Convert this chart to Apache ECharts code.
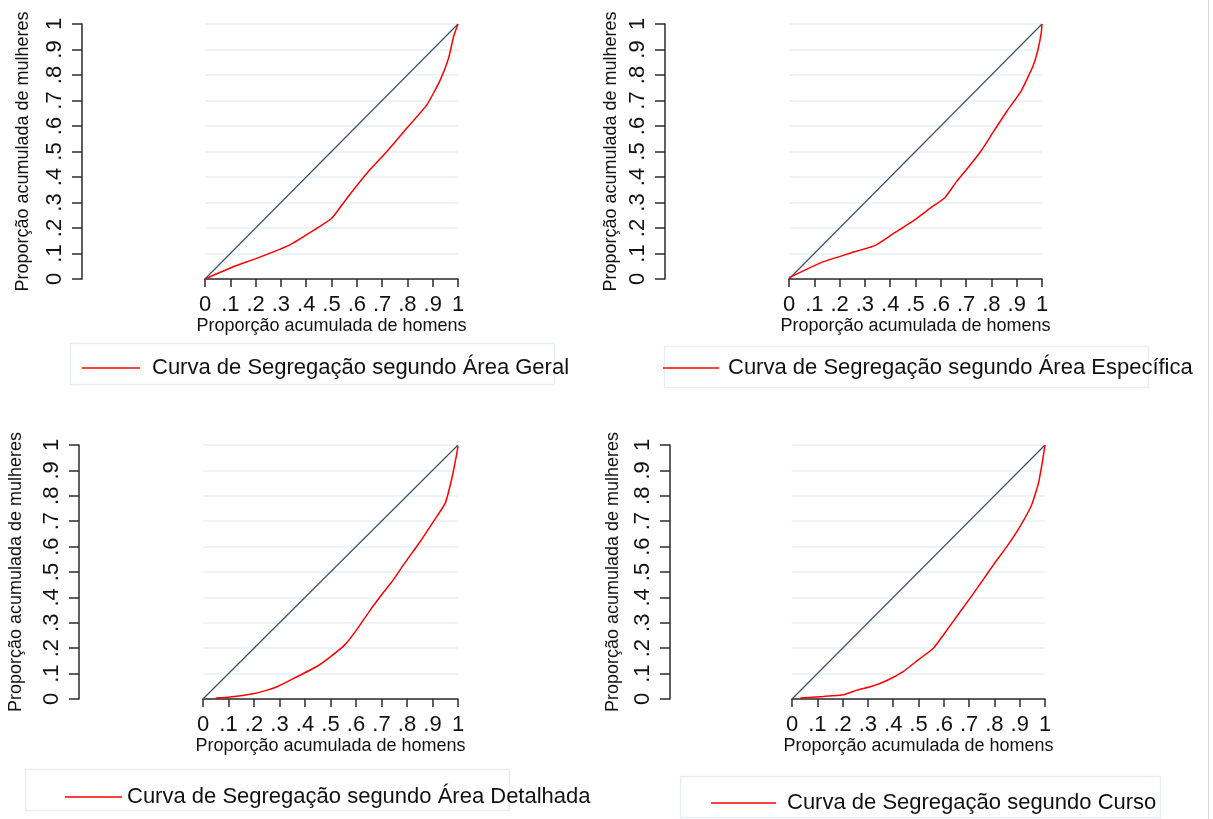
<!DOCTYPE html>
<html>
<head>
<meta charset="utf-8">
<script src="https://cdn.jsdelivr.net/npm/echarts@6/dist/echarts.min.js"></script>
<style>
html,body{margin:0;padding:0;background:#fff;}
#c{width:1213px;height:819px;}
</style>
</head>
<body>
<div id="c"></div>
<script>
// ---- data ----
const tickLabels = ['0', '.1', '.2', '.3', '.4', '.5', '.6', '.7', '.8', '.9', '1'];
const xTitle = 'Proporção acumulada de homens';
const yTitle = 'Proporção acumulada de mulheres';
const seriesNames = [
  'Curva de Segregação segundo Área Geral',
  'Curva de Segregação segundo Área Específica',
  'Curva de Segregação segundo Área Detalhada',
  'Curva de Segregação segundo Curso'
];
const equality = [[0, 0], [1, 1]];
const curveGeral = [[0, 0], [0.112, 0.048], [0.204, 0.081], [0.336, 0.134], [0.442, 0.199], [0.501, 0.238], [0.561, 0.317], [0.640, 0.415], [0.719, 0.5], [0.798, 0.592], [0.877, 0.683], [0.930, 0.781], [0.963, 0.867], [0.983, 0.952], [1, 1]];
const curveEspecifica = [[0, 0.005], [0.136, 0.068], [0.241, 0.101], [0.339, 0.131], [0.405, 0.173], [0.497, 0.232], [0.557, 0.277], [0.616, 0.319], [0.662, 0.382], [0.708, 0.437], [0.761, 0.505], [0.807, 0.576], [0.859, 0.655], [0.918, 0.738], [0.964, 0.834], [0.984, 0.899], [0.997, 0.965], [1, 1]];
const curveDetalhada = [[0.05, 0.004], [0.105, 0.008], [0.197, 0.021], [0.249, 0.034], [0.295, 0.05], [0.354, 0.08], [0.446, 0.128], [0.498, 0.165], [0.557, 0.214], [0.603, 0.273], [0.655, 0.349], [0.708, 0.42], [0.747, 0.47], [0.786, 0.528], [0.852, 0.62], [0.904, 0.699], [0.950, 0.771], [0.976, 0.869], [0.993, 0.954], [1, 0.996]];
const curveCurso = [[0.033, 0.004], [0.125, 0.01], [0.204, 0.017], [0.257, 0.035], [0.316, 0.05], [0.375, 0.073], [0.441, 0.109], [0.5, 0.155], [0.559, 0.2], [0.599, 0.253], [0.651, 0.325], [0.704, 0.397], [0.757, 0.472], [0.796, 0.528], [0.849, 0.6], [0.901, 0.679], [0.947, 0.764], [0.974, 0.849], [0.991, 0.941], [1, 1]];
const curves = [curveGeral, curveEspecifica, curveDetalhada, curveCurso];

// ---- layout ----
const FONT = '"Liberation Sans", Arial, sans-serif';
const grids = [
  {left: 205, top: 24, width: 253, height: 255},
  {left: 789, top: 24, width: 253, height: 255},
  {left: 203, top: 445, width: 255, height: 254},
  {left: 792, top: 445, width: 253, height: 254}
];
const yOffsets = [123, 124, 124, 122];
const yNameGaps = [50, 45, 54, 48];
const legendPos = [
  {left: 82, top: 356, w: 58, gap: 12},
  {left: 663, top: 356, w: 56, gap: 9},
  {left: 65, top: 785, w: 57, gap: 5},
  {left: 711, top: 791, w: 65, gap: 11}
];
const boxes = [
  [70, 343, 484, 41],
  [664, 346, 484, 41],
  [25, 769, 484, 41],
  [680, 776, 480, 41]
];

const axisColor = '#2b2b2b';
const fmt = (v, i) => tickLabels[i];

const option = {
  animation: false,
  backgroundColor: '#fff',
  grid: grids.map(g => Object.assign({containLabel: false}, g)),
  xAxis: grids.map((g, i) => ({
    type: 'value', gridIndex: i, min: 0, max: 1, interval: 0.1,
    name: xTitle, nameLocation: 'middle', nameGap: 37,
    nameTextStyle: {fontFamily: FONT, fontSize: 18, color: '#111'},
    axisLine: {show: true, onZero: false, lineStyle: {color: axisColor, width: 1.5}},
    axisTick: {show: true, length: 8, lineStyle: {color: axisColor, width: 1.5}},
    axisLabel: {formatter: fmt, fontFamily: FONT, fontSize: 22, color: '#111', margin: 15, showMinLabel: true, showMaxLabel: true, hideOverlap: false},
    splitLine: {show: false}
  })),
  yAxis: grids.map((g, i) => ({
    type: 'value', gridIndex: i, min: 0, max: 1, interval: 0.1,
    position: 'left', offset: yOffsets[i],
    name: yTitle, nameLocation: 'middle', nameGap: yNameGaps[i], nameRotate: 90,
    nameTextStyle: {fontFamily: FONT, fontSize: 18, color: '#111'},
    axisLine: {show: true, onZero: false, lineStyle: {color: axisColor, width: 1.5}},
    axisTick: {show: true, length: 10, lineStyle: {color: axisColor, width: 1.5}},
    axisLabel: {formatter: fmt, rotate: 90, fontFamily: FONT, fontSize: 22, color: '#111', margin: 16, showMinLabel: true, showMaxLabel: true, hideOverlap: false},
    splitLine: {show: true, lineStyle: {color: '#e9f0f3', width: 1.5}}
  })),
  legend: legendPos.map((p, i) => ({
    data: [seriesNames[i]],
    left: p.left, top: p.top, padding: 0,
    orient: 'horizontal', selectedMode: false,
    icon: 'rect', itemWidth: p.w, itemHeight: 1.6,
    textStyle: {fontFamily: FONT, fontSize: 22, color: '#111', padding: [0, 0, 0, p.gap - 5], lineHeight: 24}
  })),
  graphic: boxes.map(b => ({
    type: 'rect', silent: true, z: -1,
    shape: {x: b[0] + 0.5, y: b[1] + 0.5, width: b[2], height: b[3]},
    style: {fill: 'none', stroke: '#e6eef1', lineWidth: 1.5}
  })).concat([{
    type: 'line', silent: true,
    shape: {x1: 1208.5, y1: 0, x2: 1208.5, y2: 819},
    style: {stroke: '#d8d8d8', lineWidth: 1}
  }]),
  series: []
};

for (let i = 0; i < 4; i++) {
  option.series.push({
    type: 'line', name: 'Igualdade ' + (i + 1), xAxisIndex: i, yAxisIndex: i,
    data: equality, showSymbol: false, symbol: 'none', silent: true,
    lineStyle: {color: '#3a5270', width: 1.2}, itemStyle: {color: '#3a5270'}
  });
  option.series.push({
    type: 'line', name: seriesNames[i], xAxisIndex: i, yAxisIndex: i,
    data: curves[i], showSymbol: false, symbol: 'none', silent: true, smooth: 0.15,
    lineStyle: {color: '#ff0000', width: 1.5}, itemStyle: {color: '#ff0000'}
  });
}

const chart = echarts.init(document.getElementById('c'), null, {renderer: 'canvas'});
chart.setOption(option);
</script>
</body>
</html>
